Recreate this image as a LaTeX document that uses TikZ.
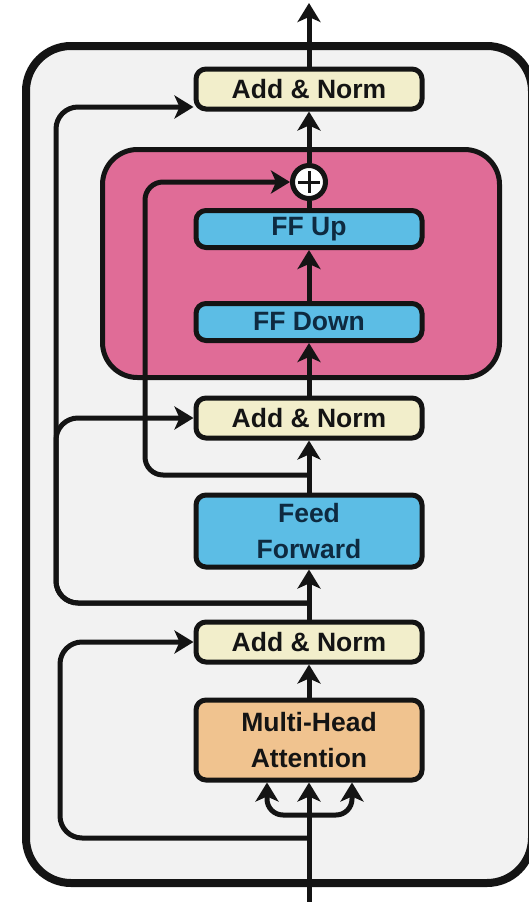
\documentclass[tikz,border=0pt]{standalone}
\usepackage{fontspec}
\setmainfont{Liberation Sans}
\usetikzlibrary{arrows.meta,calc}
\definecolor{bggray}{HTML}{F2F2F2}
\definecolor{cream}{HTML}{F2EECB}
\definecolor{pinkbox}{HTML}{E06C97}
\definecolor{ffblue}{HTML}{5CBDE5}
\definecolor{mhaorange}{HTML}{F0C38F}
\definecolor{ink}{HTML}{141414}
\definecolor{navy}{HTML}{0E2A40}
\begin{document}
\begin{tikzpicture}[x=1pt,y=-1pt,
  box/.style={draw=ink,line width=5pt,rounded corners=10pt,minimum width=226pt,inner sep=0pt,align=center,font=\fontsize{26.5}{36}\selectfont\bfseries},
  anorm/.style={box,fill=cream,minimum height=40pt,text=ink},
  ffbox/.style={box,fill=ffblue,text=navy},
  mhabox/.style={box,fill=mhaorange,minimum height=80pt,text=ink},
  flow/.style={draw=ink,line width=5pt,-{Stealth[length=19pt,width=23pt,inset=5pt]}},
  link/.style={draw=ink,line width=5pt},
  skip/.style={flow,rounded corners=22pt}]
\useasboundingbox (0,0) rectangle (528,902);
\fill[white] (0,0) rectangle (528,902);
% outer layer box
\node[draw=ink,fill=bggray,line width=8pt,rounded corners=45pt,minimum width=506pt,minimum height=837pt,inner sep=0pt] (layer) at (279,464.5) {};
% FFN block
\node[draw=ink,fill=pinkbox,line width=5pt,rounded corners=35pt,minimum width=397pt,minimum height=228pt,inner sep=0pt] (ffn) at (301,263.5) {};
% nodes
\node[anorm] (an3) at (309,89) {Add \& Norm};
\node[circle,draw=ink,fill=white,line width=5pt,minimum size=33pt,inner sep=0pt] (plus) at (309,182) {};
\draw[ink,line width=3pt] ($(plus.center)+(-11,0)$) -- ($(plus.center)+(11,0)$);
\draw[ink,line width=3pt] ($(plus.center)+(0,-11)$) -- ($(plus.center)+(0,11)$);
\node[ffbox,minimum height=37pt] (up) at (309,229) {FF Up};
\node[ffbox,minimum height=37pt] (down) at (309,322) {FF Down};
\node[anorm] (an2) at (309,418) {Add \& Norm};
\node[ffbox,minimum height=72pt] (ff) at (309,531) {Feed\\Forward};
\node[anorm] (an1) at (309,642) {Add \& Norm};
\node[mhabox] (mha) at (309,740) {Multi-Head\\Attention};
% helper coordinates
\coordinate (b1) at (309,603);
\coordinate (b2) at (309,475);
\coordinate (b3) at (309,838);
\coordinate (split) at (309,815);
\coordinate (inp) at (309,905);
\coordinate (outp) at (309,3);
\coordinate (railA) at (56,0);
\coordinate (railB) at (60,0);
\coordinate (railC) at (145,0);
\coordinate (an3in) at ($(an3.west)+(0,18)$);
% main column
\draw[link] (inp) -- (b3);
\draw[flow] (b3) -- (mha.south);
\draw[flow,rounded corners=16pt] (split) -| ($(mha.south)+(-42,0)$);
\draw[flow,rounded corners=16pt] (split) -| ($(mha.south)+(43,0)$);
\draw[flow] (mha.north) -- (an1.south);
\draw[link] (an1.north) -- (b1);
\draw[flow] (b1) -- (ff.south);
\draw[link] (ff.north) -- (b2);
\draw[flow] (b2) -- (an2.south);
\draw[flow] (an2.north) -- (down.south);
\draw[flow] (down.north) -- (up.south);
\draw[link] (up.north) -- (plus.south);
\draw[flow] (plus.north) -- (an3.south);
\draw[flow] (an3.north) -- (outp);
% residual connections
\draw[skip] (b3) -| (railB |- an1.west) -- (an1.west);
\draw[skip] (b1) -| (railA |- an3in) -- (an3in);
\draw[skip] (b1) -| (railA |- an2.west) -- (an2.west);
\draw[skip,rounded corners=18pt] (b2) -| (railC |- plus.west) -- (plus.west);
\end{tikzpicture}
\end{document}
